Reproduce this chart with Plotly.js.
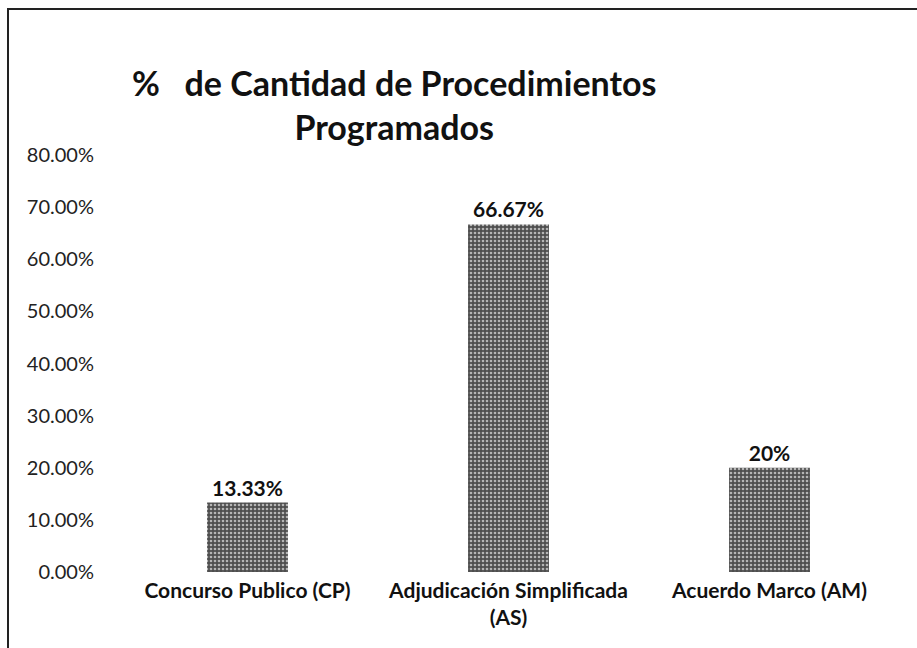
<!DOCTYPE html>
<html>
<head>
<meta charset="utf-8">
<script src="https://cdn.plot.ly/plotly-3.0.1.min.js"></script>
<style>
html,body{margin:0;padding:0;background:#fff;overflow:hidden;}
#chart{width:917px;height:648px;position:absolute;left:0;top:0;}
#frame{position:absolute;left:7px;top:8px;width:920px;height:650px;border:2px solid #222;box-sizing:border-box;pointer-events:none;}
</style>
</head>
<body>
<div id="chart"></div>
<div id="frame"></div>
<script>
var categories = ['Concurso Publico (CP)', 'Adjudicación Simplificada<br>(AS)', 'Acuerdo Marco (AM)'];
var values = [0.1333, 0.6667, 0.20];
var valueLabels = ['13.33%', '66.67%', '20%'];
var tickValues = [0, 0.1, 0.2, 0.3, 0.4, 0.5, 0.6, 0.7, 0.8];

var trace = {
  type: 'bar',
  x: categories,
  y: values,
  text: valueLabels,
  textposition: 'outside',
  texttemplate: '<b>%{text}</b>',
  textfont: {family: 'Lato, sans-serif', size: 21, color: '#111'},
  cliponaxis: false,
  width: 0.31,
  marker: {
    color: '#666666',
    line: {width: 0},
    pattern: {shape: '.', fgcolor: '#b5b5b5', bgcolor: '#4e4e4e', size: 4, solidity: 0.35}
  },
  hoverinfo: 'none'
};

var layout = {
  width: 917,
  height: 648,
  paper_bgcolor: '#fff',
  plot_bgcolor: '#fff',
  margin: {l: 117, r: 17, t: 155, b: 76},
  showlegend: false,
  title: {
    text: '<b>%   de Cantidad de Procedimientos<br>Programados</b>',
    font: {family: 'Lato, sans-serif', size: 34, color: '#111'},
    x: 0.354, xanchor: 'center', xref: 'paper',
    y: 0.852, yanchor: 'top', yref: 'container'
  },
  xaxis: {
    range: [-0.5, 2.5],
    showline: false, showgrid: false, zeroline: false, ticks: '',
    tickfont: {family: 'Lato, sans-serif', size: 21, color: '#111', weight: 'bold'},
    ticklabelstandoff: 4,
    automargin: false
  },
  yaxis: {
    range: [0, 0.8],
    tickvals: tickValues,
    tickformat: '.2%',
    showline: false, showgrid: false, zeroline: false, ticks: '',
    tickfont: {family: 'Lato, sans-serif', size: 20, color: '#222'},
    ticklabelstandoff: 22,
    automargin: false
  }
};

Plotly.newPlot('chart', [trace], layout, {displayModeBar: false, staticPlot: true});
</script>
</body>
</html>
